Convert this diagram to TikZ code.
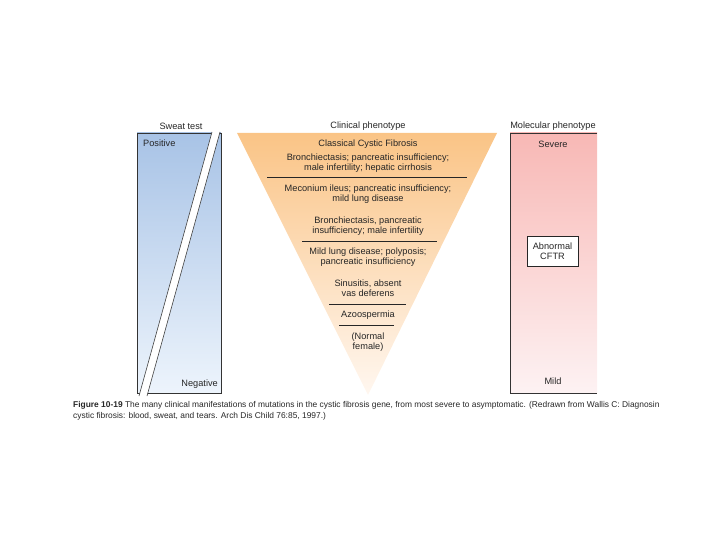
\documentclass[tikz,border=0pt]{standalone}
\usepackage{fontspec}
\setmainfont{Liberation Sans}
\definecolor{blueTop}{HTML}{A8C3E6}
\definecolor{blueBot}{HTML}{EDF4FC}
\definecolor{orTop}{HTML}{FAC486}
\definecolor{orBot}{HTML}{FFF7F0}
\definecolor{pinkTop}{HTML}{F8B8B5}
\definecolor{pinkBot}{HTML}{FDF2F3}
\begin{document}
\begin{tikzpicture}[x=1pt,y=-1pt,
  lbl/.style={font=\fontsize{9.2}{10}\selectfont, inner sep=0pt, align=center, text=black!85},
  captext/.style={font=\fontsize{8.4}{11}\selectfont, inner sep=0pt, anchor=west, text=black!85},
  sepline/.style={draw=black!85, line width=0.7pt},
  frame/.style={draw=black!80, line width=0.6pt},
  bandline/.style={draw=black!75, line width=0.6pt}]
\useasboundingbox (0,0) rectangle (720,540);
% ---- Sweat test column
\shade[top color=blueTop, bottom color=blueBot] (137,133) rectangle (221,393);
\draw[frame] (137,133) rectangle (221,393);
\fill[white] (212,132) -- (220,132) -- (147,396) -- (139,396) -- cycle;
\draw[bandline] (212,132) -- (139,396);
\draw[bandline] (220,132) -- (147,396);
\node[lbl] (sweat) at (181,126) {Sweat test};
\node[lbl, anchor=west] (pos) at (143,143) {Positive};
\node[lbl, anchor=east] (neg) at (218,384) {Negative};
% ---- Clinical phenotype triangle
\shade[top color=orTop, bottom color=orBot] (237,133) -- (497,133) -- (368,395) -- cycle;
\node[lbl] (clin) at (368,126) {Clinical phenotype};
\node[lbl] (t1) at (368,144) {Classical Cystic Fibrosis};
\node[lbl] (t2) at (368,163) {Bronchiectasis; pancreatic insufficiency;\\male infertility; hepatic cirrhosis};
\draw[sepline] (267,177) -- (467,177);
\node[lbl] (t3) at (368,194) {Meconium ileus; pancreatic insufficiency;\\mild lung disease};
\node[lbl] (t4) at (368,226) {Bronchiectasis, pancreatic\\insufficiency; male infertility};
\draw[sepline] (302,241) -- (437,241);
\node[lbl] (t5) at (368,257) {Mild lung disease; polyposis;\\pancreatic insufficiency};
\node[lbl] (t6) at (368,288) {Sinusitis, absent\\vas deferens};
\draw[sepline] (329,304) -- (406,304);
\node[lbl] (t7) at (368,315) {Azoospermia};
\draw[sepline] (339,325) -- (394,325);
\node[lbl] (t8) at (368,342) {(Normal\\female)};
% ---- Molecular phenotype column
\shade[top color=pinkTop, bottom color=pinkBot] (510,133) rectangle (597,393);
\draw[frame] (597,133) -- (510,133) -- (510,393) -- (597,393);
\node[lbl] (mol) at (553,126) {Molecular phenotype};
\node[lbl] (sev) at (553,144) {Severe};
\node[lbl] (mild) at (553,381) {Mild};
\node[lbl, draw=black!85, line width=0.6pt, fill=white, minimum width=51pt, minimum height=30pt] (cftr) at (552.5,251) {Abnormal\\CFTR};
% ---- Caption
\node[captext] (cap1) at (73,405) {\textbf{Figure 10-19} The many clinical manifestations of mutations in the cystic fibrosis gene, from most severe to asymptomatic. (Redrawn from Wallis C: Diagnosin};
\node[captext] (cap2) at (73,416) {cystic fibrosis: blood, sweat, and tears. Arch Dis Child 76:85, 1997.)};
\end{tikzpicture}
\end{document}
